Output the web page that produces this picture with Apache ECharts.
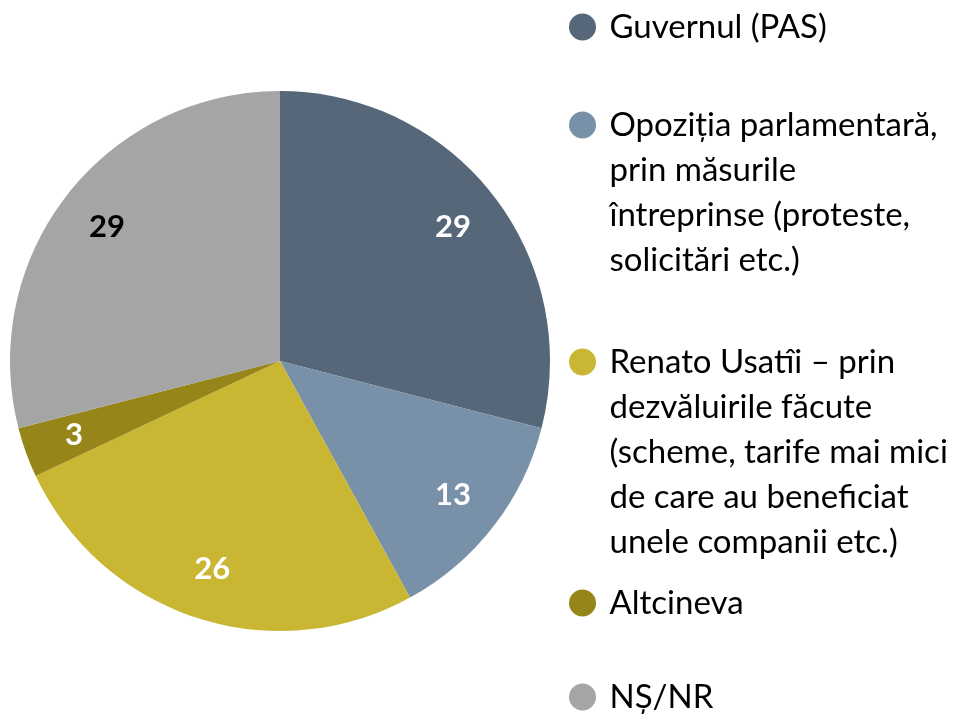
<!DOCTYPE html>
<html lang="ro">
<head>
    <meta charset="UTF-8">
    <title>Pie</title>
    <script src="https://cdn.jsdelivr.net/npm/echarts@6/dist/echarts.min.js"></script>
    <style>
        body { margin: 0; background: #fff; }
        #main { width: 976px; height: 715px; }
    </style>
</head>
<body>
    <div id="main"></div>
    <script>
        // date
        var categories = ['Guvernul (PAS)', 'Opoziția parlamentară', 'Renato Usatîi', 'Altcineva', 'NȘ/NR'];
        var legendText = [
            'Guvernul (PAS)',
            'Opoziția parlamentară,\nprin măsurile\nîntreprinse (proteste,\nsolicitări etc.)',
            'Renato Usatîi – prin\ndezvăluirile făcute\n(scheme, tarife mai mici\nde care au beneficiat\nunele companii etc.)',
            'Altcineva',
            'NȘ/NR'
        ];
        var values = [29, 13, 26, 3, 29];
        var colors = ['#566779', '#7891a8', '#c9b734', '#968519', '#a5a5a5'];
        var labelColors = ['#fff', '#fff', '#fff', '#fff', '#000'];
        var legendTops = [27, 125, 362, 603, 697]; // centru icon

        var myChart = echarts.init(document.getElementById('main'));

        var pieData = values.map(function (v, i) {
            return {
                value: v,
                name: categories[i],
                itemStyle: { color: colors[i] },
                label: { color: labelColors[i] }
            };
        });

        var lineH = 45;
        var legends = categories.map(function (name, i) {
            var lines = legendText[i].split('\n');
            var n = lines.length;
            // linii goale in fata ca prima linie sa stea langa cerc
            var pad = [];
            for (var k = 1; k < n; k++) pad.push(' ');
            var txt = pad.concat(lines).join('\n');
            var h = lineH * (2 * n - 1);
            return {
                data: [name],
                left: 569,
                top: legendTops[i] - h / 2,
                padding: 0,
                icon: 'circle',
                itemWidth: 44,
                itemHeight: 27,
                selectedMode: false,
                formatter: function () { return txt; },
                textStyle: {
                    fontFamily: 'Lato',
                    fontSize: 33,
                    color: '#000',
                    lineHeight: lineH,
                    rich: {}
                }
            };
        });

        var option = {
            animation: false,
            legend: legends,
            series: [
                {
                    type: 'pie',
                    center: [280, 361],
                    radius: [0, 270],
                    startAngle: 90,
                    clockwise: true,
                    label: { show: false },
                    labelLine: { show: false },
                    silent: true,
                    data: pieData
                },
                {
                    // inel transparent doar pentru etichete
                    type: 'pie',
                    center: [280, 361],
                    radius: [162, 270],
                    startAngle: 90,
                    clockwise: true,
                    silent: true,
                    itemStyle: { color: 'transparent' },
                    label: {
                        show: true,
                        position: 'inside',
                        formatter: '{c}',
                        fontFamily: 'Lato',
                        fontWeight: 'bold',
                        fontSize: 31
                    },
                    labelLine: { show: false },
                    data: pieData.map(function (d) {
                        return { value: d.value, name: d.name, itemStyle: { color: 'transparent' }, label: d.label };
                    })
                }
            ]
        };

        myChart.setOption(option);
    </script>
</body>
</html>
